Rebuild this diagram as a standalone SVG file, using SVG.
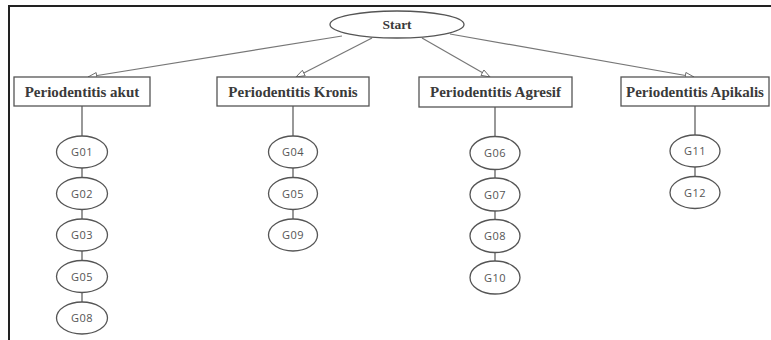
<svg xmlns="http://www.w3.org/2000/svg" width="771" height="340" viewBox="0 0 771 340">
<style>
.frame{fill:none;stroke:#222;stroke-width:2}
.box{fill:#fff;stroke:#555;stroke-width:1.3}
.start{fill:#fff;stroke:#555;stroke-width:1.3}
.g{fill:#fff;stroke:#555;stroke-width:1.3}
.lbl{font-family:"Liberation Serif","Times New Roman",serif;font-weight:bold;font-size:15px;fill:#3a3a3a;text-anchor:middle}
.st{font-size:13.5px}
.gt{font-family:"Open Sans","Liberation Sans",sans-serif;font-size:11px;letter-spacing:0.4px;fill:#555;text-anchor:middle}
.arr{stroke:#777;stroke-width:1.2;fill:none;marker-end:url(#tri)}
.ln{stroke:#555;stroke-width:1.2;fill:none}
</style>
<defs>
<marker id="tri" viewBox="0 0 10 8" refX="10" refY="4" markerWidth="10" markerHeight="7" markerUnits="userSpaceOnUse" orient="auto">
<path d="M0,0.5 L10,4 L0,7.5 Z" fill="#fff" stroke="#666" stroke-width="1"/>
</marker>
</defs>
<rect width="771" height="340" fill="#fff"/>
<path class="frame" d="M9 340 V6 H771"/>
<g id="connectors">
<line class="arr" x1="342" y1="36" x2="88" y2="77"/>
<line class="arr" x1="372" y1="38" x2="296" y2="77"/>
<line class="arr" x1="422" y1="38" x2="490" y2="77"/>
<line class="arr" x1="450" y1="34" x2="694" y2="77"/>
<path class="ln" d="M82 106 V136 M82 168 V177.5 M82 209.5 V219 M82 251 V260.5 M82 292.5 V302"/>
<path class="ln" d="M293 106 V136 M293 168 V177.5 M293 209.5 V219"/>
<path class="ln" d="M495 107 V137 M495 169 V178.5 M495 210.5 V220 M495 252 V261.5"/>
<path class="ln" d="M695 106 V135 M695 167 V176.5"/>
</g>
<g id="start"><ellipse class="start" cx="397" cy="24.5" rx="67" ry="13.5"/><text class="lbl st" x="397" y="29">Start</text></g>
<g id="p1"><rect class="box" x="14" y="77" width="136" height="29"/><text class="lbl" x="82" y="96.5">Periodentitis akut</text></g>
<g id="p2"><rect class="box" x="217" y="77" width="152" height="29"/><text class="lbl" x="293" y="96.5">Periodentitis Kronis</text></g>
<g id="p3"><rect class="box" x="419" y="77" width="153" height="30"/><text class="lbl" x="495.5" y="97">Periodentitis Agresif</text></g>
<g id="p4"><rect class="box" x="621" y="77" width="148" height="29"/><text class="lbl" x="695" y="96.5">Periodentitis Apikalis</text></g>
<g id="c1g01"><ellipse class="g" cx="82" cy="152" rx="25.5" ry="16"/><text class="gt" x="82" y="156">G01</text></g>
<g id="c1g02"><ellipse class="g" cx="82" cy="193.5" rx="25.5" ry="16"/><text class="gt" x="82" y="197.5">G02</text></g>
<g id="c1g03"><ellipse class="g" cx="82" cy="235" rx="25.5" ry="16"/><text class="gt" x="82" y="239">G03</text></g>
<g id="c1g05"><ellipse class="g" cx="82" cy="276.5" rx="25.5" ry="16"/><text class="gt" x="82" y="280.5">G05</text></g>
<g id="c1g08"><ellipse class="g" cx="82" cy="318" rx="25.5" ry="16"/><text class="gt" x="82" y="322">G08</text></g>
<g id="c2g04"><ellipse class="g" cx="293" cy="152" rx="24.5" ry="16"/><text class="gt" x="293" y="156">G04</text></g>
<g id="c2g05"><ellipse class="g" cx="293" cy="193.5" rx="24.5" ry="16"/><text class="gt" x="293" y="197.5">G05</text></g>
<g id="c2g09"><ellipse class="g" cx="293" cy="235" rx="24.5" ry="16"/><text class="gt" x="293" y="239">G09</text></g>
<g id="c3g06"><ellipse class="g" cx="495" cy="153" rx="25" ry="16.5"/><text class="gt" x="495" y="157">G06</text></g>
<g id="c3g07"><ellipse class="g" cx="495" cy="194.5" rx="25" ry="16.5"/><text class="gt" x="495" y="198.5">G07</text></g>
<g id="c3g08"><ellipse class="g" cx="495" cy="236" rx="25" ry="16.5"/><text class="gt" x="495" y="240">G08</text></g>
<g id="c3g10"><ellipse class="g" cx="495" cy="277.5" rx="25" ry="16.5"/><text class="gt" x="495" y="281.5">G10</text></g>
<g id="c4g11"><ellipse class="g" cx="695" cy="151" rx="25" ry="16"/><text class="gt" x="695" y="155">G11</text></g>
<g id="c4g12"><ellipse class="g" cx="695" cy="192.5" rx="25" ry="16"/><text class="gt" x="695" y="196.5">G12</text></g>
</svg>
